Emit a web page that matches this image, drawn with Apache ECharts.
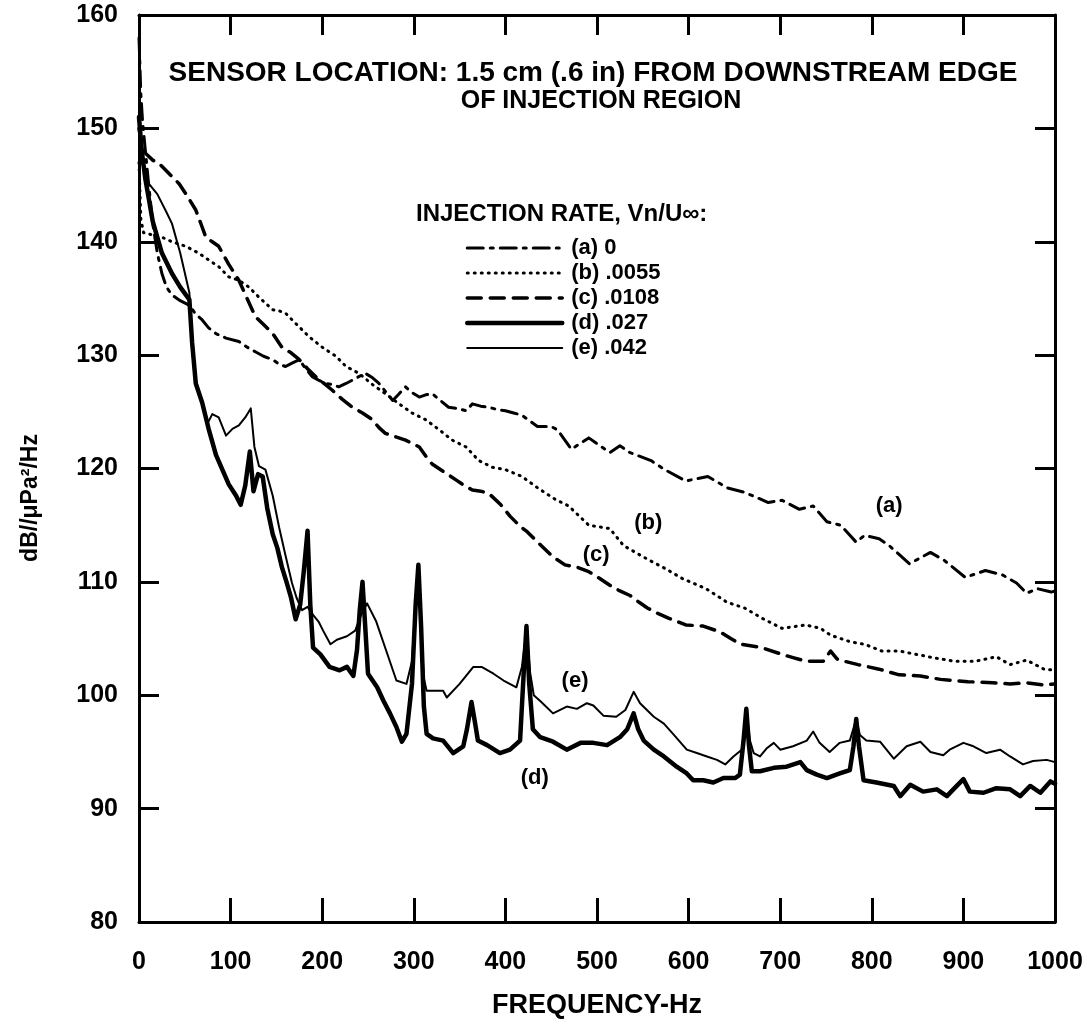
<!DOCTYPE html>
<html>
<head>
    <meta charset="utf-8">
    <title>Wall pressure spectra</title>
    <script src="https://cdn.jsdelivr.net/npm/echarts/dist/echarts.min.js"></script>
    <style>
        body { margin: 0; background: #fff; }
    </style>
</head>
<body>
    <div id="main" style="width: 1088px; height: 1024px;"></div>
    <script>
        // spectra, [frequency Hz, dB]
        var seriesA = [[0,158],[2,153],[4,150.5],[7,148],[10,145.5],[15,141.6],[20,139],[25,137.2],[30,136],[36,135.3],[45,134.8],[55,134.4],[62,133.6],[69,133.1],[76,132.4],[84,131.9],[95,131.5],[109,131.2],[118,130.7],[127,130.3],[136,129.9],[146,129.6],[153,129.2],[160,129],[167,129.3],[175,129.6],[182,128.8],[189,128.1],[196,127.8],[204,127.5],[211,127.4],[218,127.2],[226,127.5],[233,127.8],[240,128.1],[247,128.4],[255,128],[262,127.5],[270,126.7],[277,126],[284,126.6],[291,127.2],[298,126.7],[306,126.3],[313,126.5],[320,126.6],[329,126],[338,125.4],[347,125.3],[357,125.1],[364,125.7],[373,125.5],[382,125.4],[391,125.2],[400,125.1],[409,124.9],[418,124.7],[435,123.7],[450,123.7],[457,123.4],[472,121.7],[491,122.7],[514,121.4],[525,122],[536,121.4],[559,120.7],[574,119.9],[597,118.9],[621,119.3],[642,118.3],[661,117.9],[687,117],[702,117.2],[721,116.4],[736,116.7],[751,115.3],[766,115],[783,113.5],[792,114.1],[808,113.8],[819,113.2],[841,111.6],[864,112.6],[879,111.9],[902,110.4],[924,111],[943,110.6],[958,109.9],[969,109],[981,109.4],[996,109.1],[1000,109.2]];
        var seriesB = [[0,147],[2,142],[5,140.8],[15,140.6],[25,140.4],[36,140],[51,139.6],[65,139],[76,138.4],[87,137.8],[98,136.9],[109,136.6],[120,136],[131,135.1],[146,134],[153,133.9],[160,133.7],[171,132.8],[186,131.6],[200,130.7],[215,129.9],[226,129],[240,128.4],[255,127.4],[269,126.6],[284,125.7],[298,124.9],[313,124.3],[328,123.4],[342,122.5],[357,121.9],[371,120.7],[386,120.1],[400,119.9],[418,119.3],[435,118.3],[454,117.3],[469,116.7],[491,115],[514,114.7],[529,113.2],[555,112],[574,111.2],[593,110.3],[619,109.4],[642,108.2],[661,107.7],[680,106.8],[702,105.9],[728,106.2],[744,105.9],[755,105.3],[777,104.7],[792,104.5],[811,103.9],[830,103.9],[849,103.6],[868,103.3],[890,103],[913,103],[936,103.4],[951,102.7],[969,103.1],[988,102.3],[1000,102.2]];
        var seriesC = [[0,150],[3,148.5],[7,147.8],[15,147.2],[22,146.9],[33,146],[44,145.1],[53,144],[62,142.8],[68,141.5],[73,140.4],[80,140],[87,139.6],[98,138],[109,136.6],[118,135],[127,133.4],[136,132.7],[146,131.9],[156,130.7],[166,130.2],[175,129.6],[184,128.8],[193,128.1],[202,127.5],[211,126.9],[222,126.1],[233,125.4],[244,124.9],[255,124.3],[262,123.6],[269,123.1],[280,122.8],[291,122.5],[306,121.9],[313,121.1],[320,120.4],[333,119.7],[346,119],[355,118.5],[364,118.1],[373,118],[382,117.8],[395,116.8],[405,115.8],[416,114.9],[424,114.4],[439,113.2],[452,112.2],[465,111.5],[478,111.3],[491,110.9],[503,110.3],[514,109.7],[525,109.2],[536,108.8],[546,108.2],[555,107.7],[567,107.2],[578,106.8],[597,106.2],[616,106.1],[634,105.6],[646,105],[657,104.5],[680,104.2],[702,103.6],[715,103.3],[728,103],[747,103],[755,103.9],[762,103.2],[770,103],[785,102.7],[808,102.3],[830,101.8],[853,101.7],[875,101.4],[905,101.2],[932,101.1],[951,101],[969,101.1],[988,100.9],[1000,101]];
        var seriesD = [[0,151],[3,148],[7,145.5],[15,141.8],[25,139],[36,137.2],[45,136],[55,134.9],[58,131.1],[62,127.5],[69,125.8],[76,123.5],[84,121.2],[91,119.9],[98,118.6],[106,117.6],[111,116.8],[116,118.5],[121,121.5],[125,118],[130,119.5],[135,119.3],[140,116.5],[146,114.2],[151,113],[156,111.3],[161,110],[166,108.6],[171,106.7],[176,108],[180,111],[184,114.5],[187,108],[190,104.2],[198,103.6],[208,102.5],[219,102.2],[227,102.5],[234,101.7],[238,104],[241,107.5],[244,110],[247,106],[250,101.9],[260,100.7],[267,99.5],[274,98.4],[281,97.2],[287,95.9],[292,96.6],[298,101],[302,108],[305,111.5],[308,106],[311,99],[314,96.6],[321,96.2],[332,96],[343,94.9],[354,95.5],[358,97],[363,99.4],[367,97.5],[370,96],[380,95.6],[394,94.9],[405,95.2],[416,96],[420,102],[423,106.1],[426,101],[430,97],[438,96.3],[452,95.9],[467,95.2],[482,95.8],[496,95.8],[511,95.6],[525,96.3],[533,97],[540,98.4],[545,97],[551,96],[562,95.2],[573,94.6],[587,93.7],[598,93.1],[605,92.5],[616,92.5],[627,92.3],[638,92.7],[651,92.7],[656,93],[660,96],[663,98.8],[666,95.5],[669,93.3],[678,93.3],[693,93.6],[707,93.7],[722,94.1],[729,93.4],[740,93],[751,92.7],[765,93.1],[776,93.4],[780,95.5],[783,97.9],[786,95.5],[791,92.5],[805,92.3],[824,92],[831,91.1],[842,92.1],[856,91.5],[871,91.7],[882,91.1],[889,91.7],[900,92.6],[907,91.5],[922,91.4],[936,91.8],[951,91.7],[962,91.1],[973,92],[984,91.4],[995,92.4],[1000,92.2]];
        var seriesE = [[0,149],[3,147],[10,145.2],[20,144.2],[30,142.6],[36,141.6],[45,139],[55,135.5],[58,131.5],[62,127.8],[69,125.8],[75,124],[80,124.8],[87,124.5],[95,122.9],[102,123.5],[109,123.8],[116,124.5],[122,125.3],[126,121.9],[131,120.2],[138,119.9],[146,117.6],[153,114.8],[160,112.3],[167,109.9],[172,108.6],[178,107.5],[184,107.8],[190,107.1],[196,106.5],[201,105.7],[209,104.5],[216,104.9],[227,105.2],[236,105.7],[242,107],[249,108.1],[259,106.5],[270,103.9],[281,101.3],[292,101],[298,103],[302,108],[305,111.3],[308,106],[311,101.5],[314,100.4],[332,100.4],[336,99.8],[350,101],[365,102.5],[374,102.5],[387,101.9],[398,101.3],[412,100.7],[418,102.5],[423,105.8],[427,102],[431,100],[438,99.5],[452,98.4],[467,99],[478,98.8],[489,99.3],[496,99.1],[507,98.2],[521,98.1],[531,98.7],[540,100.3],[547,99.3],[562,98.1],[573,97.5],[583,96.6],[598,95.2],[609,94.9],[620,94.6],[631,94.3],[640,93.9],[649,94.6],[658,95.2],[663,98.6],[667,96],[671,94.9],[678,94.6],[685,95.3],[693,95.8],[700,95.2],[714,95.5],[729,96],[736,96.8],[743,95.8],[754,95],[765,95.8],[776,96],[783,97.9],[787,96.5],[794,96],[809,95.9],[824,94.4],[838,95.5],[853,95.9],[864,95],[878,94.7],[885,95.2],[900,95.8],[911,95.5],[925,94.9],[940,95.2],[951,94.6],[965,93.9],[976,94.2],[991,94.3],[1000,94.1]];

        var seriesNames = ['(a) 0', '(b) .0055', '(c) .0108', '(d) .027', '(e) .042'];
        // curve tags placed in data coordinates
        var curveTags = [['(a)', 819, 116.7], ['(b)', 556, 115.2], ['(c)', 499, 112.4], ['(e)', 476, 101.3], ['(d)', 432, 92.7]];

        var font = 'Liberation Sans, Arial, sans-serif';
        var chartDom = document.getElementById('main');
        var myChart = echarts.init(chartDom);

        // one style per curve: width, dash
        var styles = [
            { width: 3, type: [16, 7, 3, 7] },
            { width: 3, type: [1, 6] },
            { width: 3.5, type: [14, 9] },
            { width: 4.5, type: 'solid' },
            { width: 2, type: 'solid' }
        ];
        var allData = [seriesA, seriesB, seriesC, seriesD, seriesE];

        function frameAxis(pos, isX, showLabel) {
            return {
                type: 'value',
                position: pos,
                min: isX ? 0 : 80,
                max: isX ? 1000 : 160,
                interval: isX ? 100 : 10,
                axisLine: { show: true, onZero: false, lineStyle: { color: '#000', width: 3 } },
                axisTick: { show: true, inside: true, length: (pos === 'bottom') ? 24 : 20, lineStyle: { color: '#000', width: 3 } },
                axisLabel: {
                    show: showLabel,
                    color: '#000',
                    fontFamily: font,
                    fontWeight: 'bold',
                    fontSize: 25,
                    margin: isX ? 28 : 21,
                    formatter: function (v) { return String(v); }
                },
                splitLine: { show: false }
            };
        }

        var xBottom = frameAxis('bottom', true, true);
        xBottom.name = 'FREQUENCY-Hz';
        xBottom.nameLocation = 'middle';
        xBottom.nameGap = 70;
        xBottom.nameTextStyle = { color: '#000', fontFamily: font, fontWeight: 'bold', fontSize: 27 };

        var option = {
            animation: false,
            grid: { left: 139, right: 33, top: 15, bottom: 94 },
            xAxis: [xBottom, frameAxis('top', true, false)],
            yAxis: [frameAxis('left', false, true), frameAxis('right', false, false)],
            legend: {
                orient: 'vertical',
                left: 460,
                top: 232,
                itemWidth: 95,
                itemHeight: 14,
                itemGap: 3,
                itemStyle: { opacity: 0 },
                textStyle: { color: '#000', fontFamily: font, fontWeight: 'bold', fontSize: 22, lineHeight: 22, padding: [0, 0, 0, 4] },
                data: seriesNames.map(function (n, i) {
                    return { name: n, lineStyle: { color: '#000', width: styles[i].width, type: styles[i].type } };
                })
            },
            series: seriesNames.map(function (n, i) {
                return {
                    name: n,
                    type: 'line',
                    data: allData[i],
                    symbol: 'none',
                    showSymbol: false,
                    lineStyle: { color: '#000', width: styles[i].width, type: styles[i].type, cap: 'round', join: 'round' },
                    itemStyle: { color: '#000' }
                };
            }),
            graphic: [
                {
                    type: 'text', x: 593, y: 73,
                    style: { text: 'SENSOR LOCATION: 1.5 cm (.6 in) FROM DOWNSTREAM EDGE', fill: '#000', font: 'bold 28px ' + font, textAlign: 'center', textVerticalAlign: 'middle' }
                },
                {
                    type: 'text', x: 601, y: 101,
                    style: { text: 'OF INJECTION REGION', fill: '#000', font: 'bold 25px ' + font, textAlign: 'center', textVerticalAlign: 'middle' }
                },
                {
                    type: 'text', x: 416, y: 214,
                    style: { text: 'INJECTION RATE, Vn/U\u221E:', fill: '#000', font: 'bold 24px ' + font, textAlign: 'left', textVerticalAlign: 'middle' }
                },
                {
                    type: 'text', x: 31, y: 498, rotation: Math.PI / 2,
                    style: { text: 'dB//\u03BCPa\u00B2/Hz', fill: '#000', font: 'bold 23px ' + font, textAlign: 'center', textVerticalAlign: 'middle' }
                }
            ]
        };

        myChart.setOption(option);

        // curve tags, positioned through the axes
        var tagGraphics = curveTags.map(function (t) {
            var p = myChart.convertToPixel({ xAxisIndex: 0, yAxisIndex: 0 }, [t[1], t[2]]);
            return {
                type: 'text', x: p[0], y: p[1],
                style: { text: t[0], fill: '#000', font: 'bold 22px ' + font, textAlign: 'center', textVerticalAlign: 'middle' }
            };
        });
        myChart.setOption({ graphic: option.graphic.concat(tagGraphics) });
    </script>
</body>
</html>
